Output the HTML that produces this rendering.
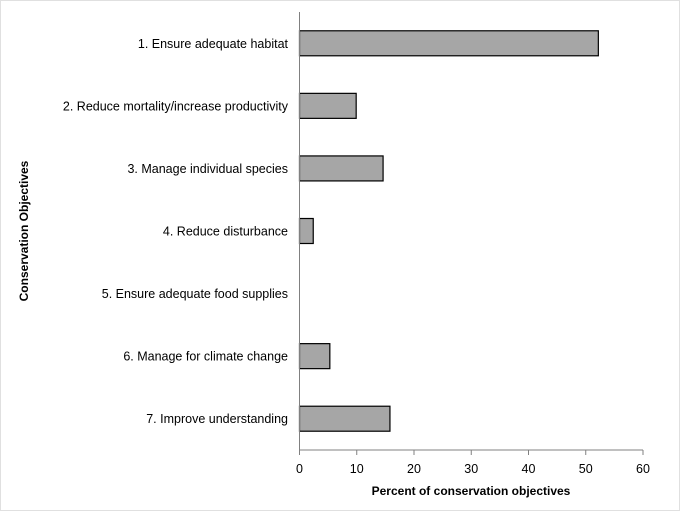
<!DOCTYPE html>
<html><head><meta charset="utf-8"><style>
html,body{margin:0;padding:0;background:#fff;}
svg{display:block;font-family:"Liberation Sans",Arial,sans-serif;}
</style></head><body>
<svg id="chart" width="680" height="511" viewBox="0 0 680 511">
<rect x="0.5" y="0.5" width="679" height="510" fill="#fff" stroke="#e0e0e0"/>
<g id="bars"></g>
<g id="axes"></g>
<text x="471" y="495" text-anchor="middle" font-size="12" font-weight="bold" fill="#000">Percent of conservation  objectives</text>
<text transform="translate(28,231) rotate(-90)" text-anchor="middle" font-size="12" font-weight="bold" fill="#000">Conservation  Objectives</text>
</svg>
<script>
const categories = ["1. Ensure adequate habitat","2. Reduce mortality/increase productivity","3. Manage individual species","4. Reduce disturbance","5. Ensure adequate food supplies","6. Manage for climate change","7. Improve understanding"];
const values = [52.2, 9.9, 14.6, 2.4, 0, 5.3, 15.8];
const xTicks = [0,10,20,30,40,50,60];

const NS="http://www.w3.org/2000/svg";
const x0=299.5, x1=643, xMax=60, plotTop=12, plotBottom=450;
const band=(plotBottom-plotTop)/categories.length, barH=25;
const xScale=v=>x0+(v/xMax)*(x1-x0);
const yCenter=i=>plotTop+band*(i+0.5);
function mk(tag,attrs,parent){const e=document.createElementNS(NS,tag);for(const k in attrs)e.setAttribute(k,attrs[k]);parent.appendChild(e);return e;}
const gb=document.getElementById('bars'), ga=document.getElementById('axes');
categories.forEach((c,i)=>{
  const cy=yCenter(i);
  if(values[i]>0){
    const r=mk('rect',{x:x0,y:cy-barH/2,width:xScale(values[i])-x0,height:barH,fill:'#a6a6a6',stroke:'#000','stroke-width':1.2},gb);
    
    
  }
  const t=mk('text',{x:288,y:cy+4.5,'text-anchor':'end','font-size':12.5,fill:'#000'},ga);
  t.textContent=c;
  
  
});
const yl=mk('line',{x1:x0,y1:plotTop,x2:x0,y2:plotBottom,stroke:'#808080','stroke-width':1},ga);


const xl=mk('line',{x1:x0,y1:plotBottom,x2:x1,y2:plotBottom,stroke:'#808080','stroke-width':1},ga);


xTicks.forEach(v=>{
  const x=xScale(v);
  const tk=mk('line',{x1:x,y1:plotBottom,x2:x,y2:plotBottom+5,stroke:'#808080','stroke-width':1},ga);
  
  
  const t=mk('text',{x:x,y:plotBottom+23,'text-anchor':'middle','font-size':12.5,fill:'#000'},ga);
  t.textContent=v;
  
  
});
</script>
</body></html>
